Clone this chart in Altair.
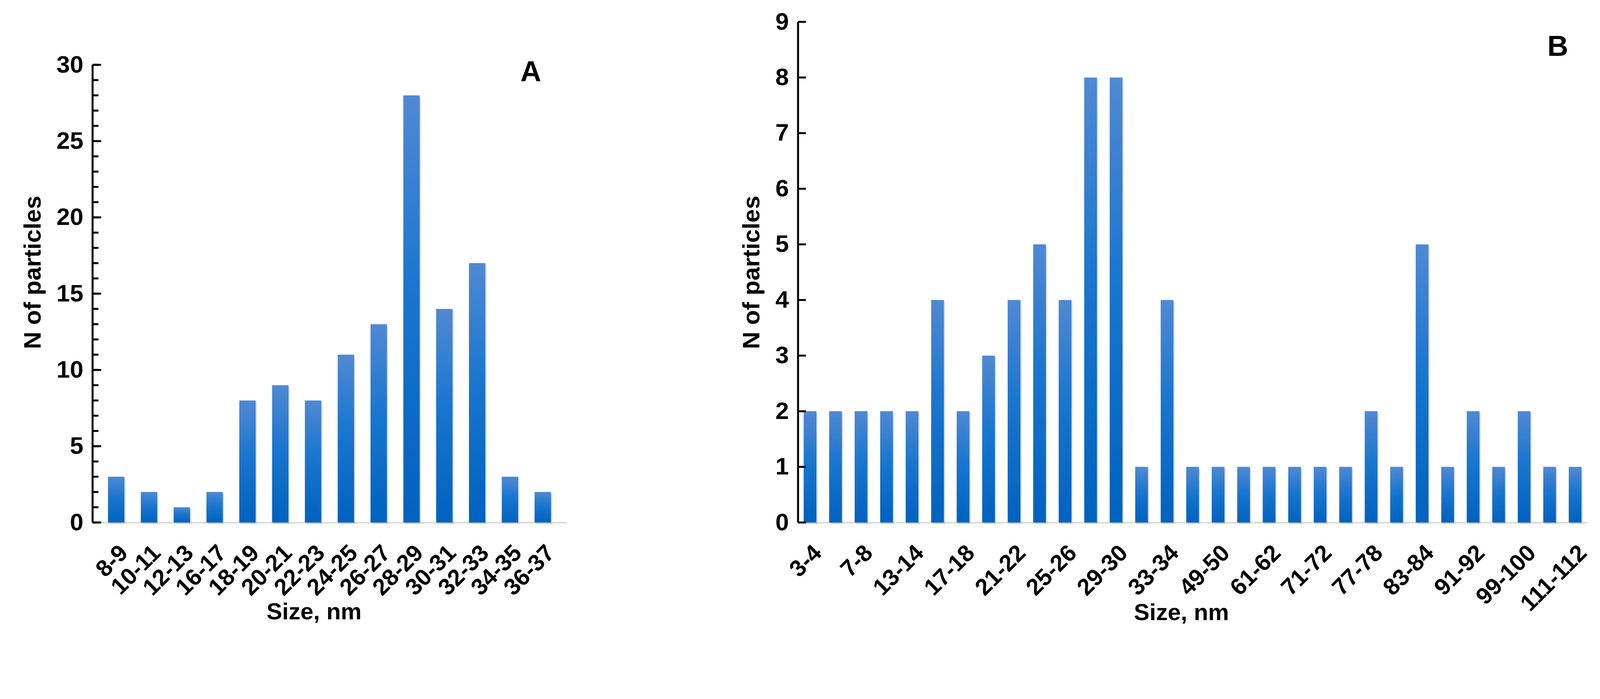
import altair as alt
import pandas as pd

# ---------------- data ----------------
A_labels = ["8-9", "10-11", "12-13", "16-17", "18-19", "20-21", "22-23",
            "24-25", "26-27", "28-29", "30-31", "32-33", "34-35", "36-37"]
A_counts = [3, 2, 1, 2, 8, 9, 8, 11, 13, 28, 14, 17, 3, 2]

B_labels = ["3-4", "5-6", "7-8", "11-12", "13-14", "15-16", "17-18", "19-20",
            "21-22", "23-24", "25-26", "27-28", "29-30", "31-32", "33-34", "35-36",
            "49-50", "55-56", "61-62", "65-66", "71-72", "73-74", "77-78", "81-82",
            "83-84", "87-88", "91-92", "95-96", "99-100", "105-106", "111-112"]
B_counts = [2, 2, 2, 2, 2, 4, 2, 3, 4, 5, 4, 8, 8, 1, 4, 1,
            1, 1, 1, 1, 1, 1, 2, 1, 5, 1, 2, 1, 2, 1, 1]
B_shown = ["3-4", "7-8", "13-14", "17-18", "21-22", "25-26", "29-30", "33-34",
           "49-50", "61-62", "71-72", "77-78", "83-84", "91-92", "99-100", "111-112"]

A_major = [0, 5, 10, 15, 20, 25, 30]
A_minor = list(range(0, 31))
B_major = [0, 1, 2, 3, 4, 5, 6, 7, 8, 9]

FONT = "Liberation Sans"

grad = alt.Gradient(
    gradient="linear",
    stops=[alt.GradientStop(color="#5089d3", offset=0),
           alt.GradientStop(color="#1a76cf", offset=0.45),
           alt.GradientStop(color="#0062bf", offset=1)],
    x1=0, x2=0, y1=0, y2=1)


def panel(labels, counts, shown, axis_max, dom_max, major, minor, width, height,
          pad_outer, letter, lx, ly, major_len, minor_len, title_dx):
    df = pd.DataFrame({"size": labels, "n": counts})
    xsc = alt.Scale(domain=labels, paddingInner=0.5, paddingOuter=pad_outer)
    ysc = alt.Scale(domain=[0, dom_max], nice=False, zero=True)
    xax = alt.Axis(title="Size, nm", values=shown, labelAngle=-45,
                   ticks=False, domainColor="#d9d9d9", domainWidth=4,
                   labelPadding=48, titlePadding=2, labelOverlap=False,
                   labelLimit=600, labelFontSize=60, titleX=width / 2 + title_dx)
    yax = alt.Axis(title="N of particles", values=major, ticks=False,
                   domain=False, labelPadding=24, titlePadding=28,
                   labelFontSize=62, titleFontSize=62)

    shadow = alt.Chart(df).mark_bar(color="#8c8c8c", opacity=0.3, xOffset=3, yOffset=4).encode(
        x=alt.X("size:N", scale=xsc, sort=labels, axis=xax),
        y=alt.Y("n:Q", scale=ysc, axis=yax),
    )
    bars = alt.Chart(df).mark_bar(fill=grad).encode(
        x=alt.X("size:N", scale=xsc, sort=labels, axis=xax),
        y=alt.Y("n:Q", scale=ysc, axis=yax),
    )
    axdf = pd.DataFrame({"y0": [0], "y1": [axis_max]})
    axline = alt.Chart(axdf).mark_rule(color="black", strokeWidth=5).encode(
        x=alt.value(0),
        y=alt.Y("y0:Q", scale=ysc, axis=yax),
        y2="y1:Q",
    )
    majdf = pd.DataFrame({"t": major})
    majt = alt.Chart(majdf).mark_rule(color="black", strokeWidth=5).encode(
        x=alt.value(0), x2=alt.value(major_len),
        y=alt.Y("t:Q", scale=ysc, axis=yax),
    )
    layers = [shadow, bars, axline, majt]
    if minor:
        mindf = pd.DataFrame({"t": minor})
        mint = alt.Chart(mindf).mark_rule(color="black", strokeWidth=5).encode(
            x=alt.value(0), x2=alt.value(minor_len),
            y=alt.Y("t:Q", scale=ysc, axis=yax),
        )
        layers.append(mint)
    ldf = pd.DataFrame({"l": [letter]})
    lt = alt.Chart(ldf).mark_text(font=FONT, fontSize=74, fontWeight="bold",
                                  color="black").encode(
        text="l:N", x=alt.value(lx), y=alt.value(ly))
    layers.append(lt)
    return alt.layer(*layers).properties(width=width, height=height)


H = 1282
pA = panel(A_labels, A_counts, A_labels, 30, 30 * H / 1172, A_major, A_minor,
           1213, H, 0.47, "A", 1122, 130, 22, 15, -40)
pB = panel(B_labels, B_counts, B_shown, 9, 9, B_major, None,
           2020, H, 0.22, "B", 1945, 65, 20, 0, -29)

chart = alt.hconcat(pA, pB, spacing=443).properties(
    padding={"left": 45, "top": 17, "right": 5, "bottom": 5}
).configure_axis(
    labelFont=FONT, titleFont=FONT, labelFontWeight="bold", titleFontWeight="bold",
    labelColor="black", titleColor="black", labelFontSize=56, titleFontSize=60,
    grid=False,
).configure_view(stroke=None)

chart.save("out.html", embed_options={"renderer": "svg", "actions": False})
